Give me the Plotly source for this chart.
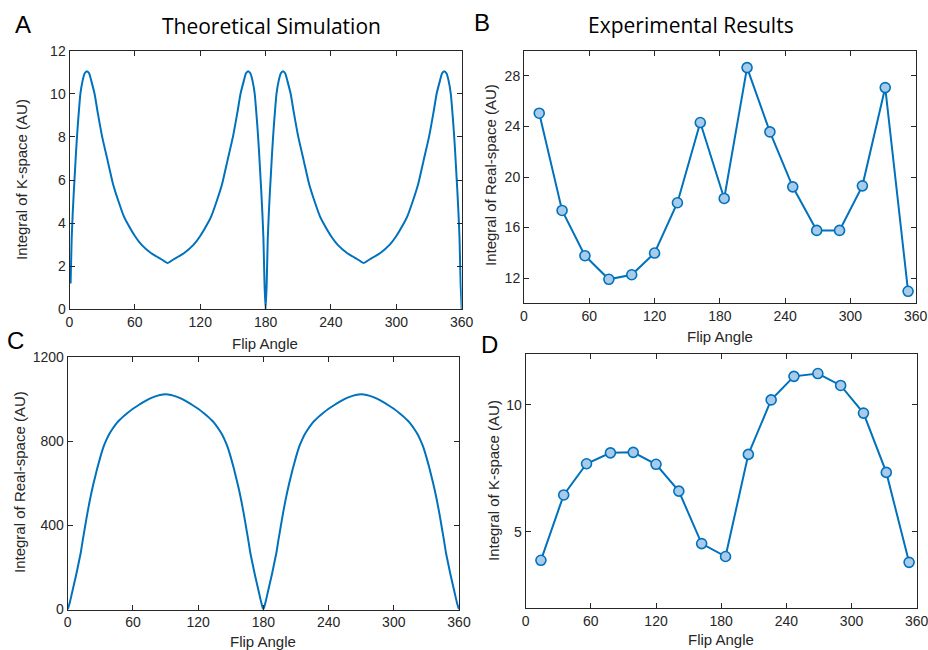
import plotly.graph_objects as go

W, H = 928, 650

# ---------------- data ----------------
# Panel A: theoretical simulation, integral of K-space
angle_a = [1, 2, 3, 4, 5, 6, 7, 8, 10, 12, 14, 16, 18, 20, 23, 26, 30, 35, 40, 45, 50, 53, 60, 66, 75, 80, 85, 90,
           95, 100, 105, 114, 120, 127, 130, 135, 140, 145, 150, 154, 157, 160, 162, 164, 166, 168, 170, 172, 173,
           174, 175, 176, 177, 178, 179, 180,
           181, 182, 183, 184, 185, 186, 187, 188, 190, 192, 194, 196, 198, 200, 203, 206, 210, 215, 220, 225, 230,
           233, 240, 246, 255, 260, 265, 270,
           275, 280, 285, 294, 300, 307, 310, 315, 320, 325, 330, 334, 337, 340, 342, 344, 346, 348, 350, 352, 353,
           354, 355, 356, 357, 358, 359, 360]
kspace_a = [1.2, 3.3, 4.5, 5.5, 6.4, 7.3, 8.1, 8.8, 10.0, 10.6, 10.95, 11.05, 10.95, 10.6, 10.0, 9.1, 8.0, 6.9, 5.8, 5.0,
            4.3, 4.0, 3.4, 3.0, 2.6, 2.45, 2.3, 2.15,
            2.3, 2.45, 2.6, 3.0, 3.4, 4.0, 4.3, 5.0, 5.8, 6.9, 8.0, 9.1, 10.0, 10.6, 10.95, 11.05, 10.95, 10.6, 10.0,
            8.8, 8.1, 7.3, 6.4, 5.5, 4.5, 3.3, 1.2, 0.0,
            1.2, 3.3, 4.5, 5.5, 6.4, 7.3, 8.1, 8.8, 10.0, 10.6, 10.95, 11.05, 10.95, 10.6, 10.0, 9.1, 8.0, 6.9, 5.8,
            5.0, 4.3, 4.0, 3.4, 3.0, 2.6, 2.45, 2.3, 2.15,
            2.3, 2.45, 2.6, 3.0, 3.4, 4.0, 4.3, 5.0, 5.8, 6.9, 8.0, 9.1, 10.0, 10.6, 10.95, 11.05, 10.95, 10.6, 10.0,
            8.8, 8.1, 7.3, 6.4, 5.5, 4.5, 3.3, 1.2, 0.0]

# Panel C: theoretical simulation, integral of real-space
angle_c = [0, 2, 4, 6, 8, 10, 12, 14, 16, 18, 20, 22, 24, 27, 30, 33, 36, 38, 41, 44, 47, 50, 55, 60, 65, 70, 75,
           80, 85, 90,
           95, 100, 105, 110, 115, 120, 125, 130, 133, 136, 139, 142, 144, 147, 150, 153, 156, 158, 160, 162, 164,
           166, 168, 170, 172, 174, 176, 178, 180,
           182, 184, 186, 188, 190, 192, 194, 196, 198, 200, 202, 204, 207, 210, 213, 216, 218, 221, 224, 227, 230,
           235, 240, 245, 250, 255, 260, 265, 270,
           275, 280, 285, 290, 295, 300, 305, 310, 313, 316, 319, 322, 324, 327, 330, 333, 336, 338, 340, 342, 344,
           346, 348, 350, 352, 354, 356, 358, 360]
realspace_c = [0, 35, 80, 125, 170, 220, 270, 335, 395, 455, 510, 560, 605, 668, 725, 775, 812, 833, 858, 880, 898,
               913, 935, 955, 972, 988, 1002, 1013, 1021, 1024,
               1021, 1013, 1002, 988, 972, 955, 935, 913, 898, 880, 858, 833, 812, 775, 725, 668, 605, 560, 510,
               455, 395, 335, 270, 220, 170, 125, 80, 35, 0,
               35, 80, 125, 170, 220, 270, 335, 395, 455, 510, 560, 605, 668, 725, 775, 812, 833, 858, 880, 898,
               913, 935, 955, 972, 988, 1002, 1013, 1021, 1024,
               1021, 1013, 1002, 988, 972, 955, 935, 913, 898, 880, 858, 833, 812, 775, 725, 668, 605, 560, 510,
               455, 395, 335, 270, 220, 170, 125, 80, 35, 0]

# Panels B and D: experimental results
angle_exp = [14, 35, 56, 78, 99, 120, 141, 162, 184, 205, 226, 247, 269, 290, 311, 332, 353]
realspace_b = [25.05, 17.35, 13.77, 11.9, 12.26, 13.98, 17.96, 24.31, 18.3, 28.66, 23.57, 19.22, 15.77, 15.77,
               19.3, 27.08, 10.95]
kspace_d = [3.87, 6.45, 7.68, 8.11, 8.13, 7.66, 6.60, 4.53, 4.02, 8.05, 10.2, 11.13, 11.24, 10.77, 9.68, 7.34, 3.79]

x_ticks = [0, 60, 120, 180, 240, 300, 360]
yticks_a = [0, 2, 4, 6, 8, 10, 12]
yticks_b = [12, 16, 20, 24, 28]
yticks_c = [0, 400, 800, 1200]
yticks_d = [5, 10]

# ---------------- style ----------------
BLUE = '#0072BD'
FILL = '#a9cbea'
AX = '#262626'
SANS = 'Liberation Sans, Arial, Helvetica, sans-serif'
TITLE_FONT = 'Open Sans, Lato, sans-serif'


def px(x):
    return x / W


def py(y):
    return 1 - y / H


def axis(domain, rng, ticks, anchor):
    return dict(domain=domain, range=rng, tickvals=ticks, anchor=anchor, automargin=False,
                ticklabeloverflow='allow',
                showline=True, linecolor=AX, linewidth=1, mirror='ticks',
                ticks='inside', ticklen=5, tickwidth=1, tickcolor=AX,
                showgrid=False, zeroline=False,
                tickfont=dict(family=SANS, size=14, color=AX))


fig = go.Figure()
fig.add_trace(go.Scatter(x=angle_a, y=kspace_a, mode='lines',
                         line=dict(color=BLUE, width=2, shape='spline', smoothing=0.5),
                         xaxis='x', yaxis='y'))
fig.add_trace(go.Scatter(x=angle_exp, y=realspace_b, mode='lines+markers', line=dict(color=BLUE, width=2),
                         marker=dict(size=10, color=FILL, line=dict(color=BLUE, width=1.6)),
                         xaxis='x2', yaxis='y2', cliponaxis=False))
fig.add_trace(go.Scatter(x=angle_c, y=realspace_c, mode='lines',
                         line=dict(color=BLUE, width=2, shape='spline', smoothing=0.5),
                         xaxis='x3', yaxis='y3'))
fig.add_trace(go.Scatter(x=angle_exp, y=kspace_d, mode='lines+markers', line=dict(color=BLUE, width=2),
                         marker=dict(size=10, color=FILL, line=dict(color=BLUE, width=1.6)),
                         xaxis='x4', yaxis='y4', cliponaxis=False))

# plot-area pixel boxes on screen (left, top, right, bottom)
boxA = (69.5, 50.7, 461.7, 309.3)
boxB = (524.0, 50.7, 915.7, 303.3)
boxC = (67.7, 357.3, 459.0, 609.5)
boxD = (525.7, 354.3, 916.7, 607.7)


def dom(box):
    l, t, r, b = box
    return [px(l), px(r)], [py(b), py(t)]


dxA, dyA = dom(boxA)
dxB, dyB = dom(boxB)
dxC, dyC = dom(boxC)
dxD, dyD = dom(boxD)

fig.update_layout(
    width=W, height=H,
    margin=dict(l=0, r=0, t=0, b=0, autoexpand=False),
    paper_bgcolor='white', plot_bgcolor='white',
    showlegend=False,
    xaxis=axis(dxA, [0, 360], x_ticks, 'y'),
    yaxis=axis(dyA, [0, 12], yticks_a, 'x'),
    xaxis2=axis(dxB, [0, 360], x_ticks, 'y2'),
    yaxis2=axis(dyB, [10, 30], yticks_b, 'x2'),
    xaxis3=axis(dxC, [0, 360], x_ticks, 'y3'),
    yaxis3=axis(dyC, [0, 1200], yticks_c, 'x3'),
    xaxis4=axis(dxD, [0, 360], x_ticks, 'y4'),
    yaxis4=axis(dyD, [2, 12], yticks_d, 'x4'),
)

ann = []


def text(x, y, s, size, family=SANS, color=AX, angle=0):
    ann.append(dict(x=px(x), y=py(y), xref='paper', yref='paper', text=s, showarrow=False,
                    xanchor='center', yanchor='middle', textangle=angle,
                    font=dict(family=family, size=size, color=color)))


# panel letters
text(23, 25, 'A', 24, family=SANS, color='black')
text(482, 23, 'B', 24, family=SANS, color='black')
text(15, 340, 'C', 24, family=SANS, color='black')
text(489, 344, 'D', 24, family=SANS, color='black')
# column titles
text(271, 26, 'Theoretical Simulation', 21, family=TITLE_FONT, color='black')
text(691, 25, 'Experimental Results', 21, family=TITLE_FONT, color='black')
# x-axis titles
text(265, 343, 'Flip Angle', 15)
text(720, 336, 'Flip Angle', 15)
text(263, 641, 'Flip Angle', 15)
text(721, 639, 'Flip Angle', 15)
# y-axis titles
text(21, 180, 'Integral of K-space (AU)', 15, angle=-90)
text(491, 175, 'Integral of Real-space (AU)', 15, angle=-90)
text(19, 482, 'Integral of Real-space (AU)', 15, angle=-90)
text(493, 481, 'Integral of K-space (AU)', 15, angle=-90)

fig.update_layout(annotations=ann)

# remove the default 8 px page margin so the figure fills the 928x650 window
fig.write_html('out.html',
               config={'displayModeBar': False},
               post_script="document.body.style.margin='0';"
                           "document.documentElement.style.overflow='hidden';")
